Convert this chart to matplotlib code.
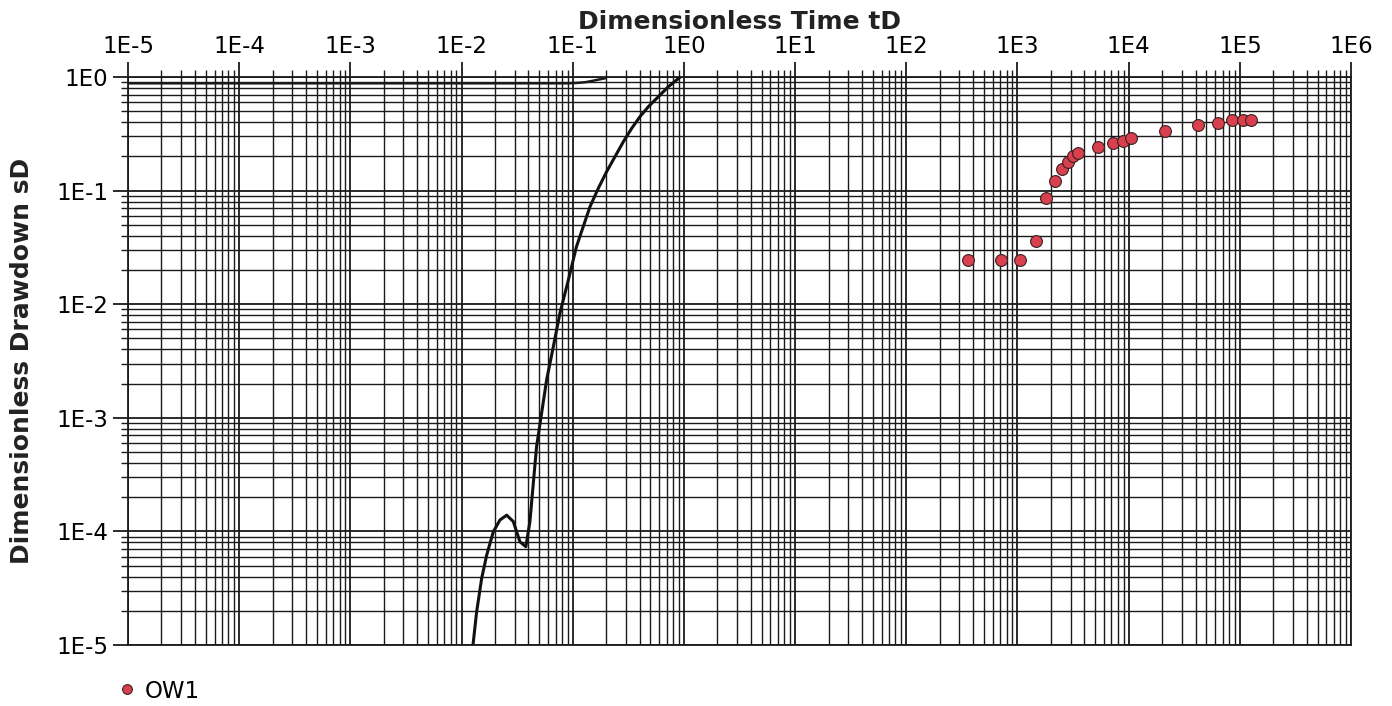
import matplotlib
matplotlib.use('Agg')
import matplotlib.pyplot as plt
from matplotlib.ticker import FixedLocator, LogLocator, NullFormatter
from matplotlib.lines import Line2D

# ---- data ----
ow1_td = [356, 706, 1047, 1459, 1794, 2162, 2500, 2831, 3140, 3483,
          5270, 7190, 8850, 10450, 21100, 41900, 63400, 84700, 106000, 125600]
ow1_sd = [0.0245, 0.0245, 0.0245, 0.036, 0.086, 0.1215, 0.155, 0.179, 0.202, 0.214,
          0.242, 0.262, 0.273, 0.290, 0.335, 0.378, 0.394, 0.418, 0.418, 0.418]

type_td = [0.0126, 0.01367, 0.01517, 0.01683, 0.01932, 0.02215, 0.02545, 0.02923,
           0.0335, 0.0379, 0.0412, 0.0438, 0.0473, 0.0525, 0.0582, 0.0669, 0.0767,
           0.0913, 0.108, 0.143, 0.170, 0.202, 0.240, 0.285, 0.339, 0.402, 0.479,
           0.589, 0.724, 0.920]
type_sd = [9.5e-6, 1.96e-5, 3.86e-5, 6.19e-5, 9.94e-5, 1.26e-4, 1.39e-4, 1.22e-4,
           8.11e-5, 7.33e-5, 1.22e-4, 2.4e-4, 5.57e-4, 1.10e-3, 2.15e-3, 4.23e-3, 8.32e-3,
           0.0163, 0.0321, 0.0722, 0.105, 0.147, 0.199, 0.269, 0.353, 0.447, 0.548,
           0.671, 0.821, 0.994]

upper_td = [1e-5, 0.09, 0.11, 0.13, 0.148, 0.17, 0.195]
upper_sd = [0.88, 0.88, 0.887, 0.90, 0.922, 0.948, 0.974]

xticks = [1e-5, 1e-4, 1e-3, 1e-2, 1e-1, 1e0, 1e1, 1e2, 1e3, 1e4, 1e5, 1e6]
xtick_labels = ['1E-5', '1E-4', '1E-3', '1E-2', '1E-1', '1E0',
                '1E1', '1E2', '1E3', '1E4', '1E5', '1E6']
yticks = [1e-5, 1e-4, 1e-3, 1e-2, 1e-1, 1e0]
ytick_labels = ['1E-5', '1E-4', '1E-3', '1E-2', '1E-1', '1E0']

series_label = 'OW1'
marker_color = '#d8404e'

# ---- figure ----
fig = plt.figure(figsize=(13.92, 7.06), dpi=100)
ax = fig.add_axes([128/1392, 1 - 645/706, (1351-128)/1392, (645-77)/706])
ax.set_xscale('log')
ax.set_yscale('log')
ax.set_xlim(1e-5, 1e6)
ax.set_ylim(1e-5, 1e0)

grid_col = '#1a1a1a'
ax.xaxis.set_major_locator(FixedLocator(xticks))
ax.yaxis.set_major_locator(FixedLocator(yticks))
ax.xaxis.set_minor_locator(LogLocator(base=10, subs=range(2, 10), numticks=100))
ax.yaxis.set_minor_locator(LogLocator(base=10, subs=range(2, 10), numticks=100))
ax.xaxis.set_minor_formatter(NullFormatter())
ax.yaxis.set_minor_formatter(NullFormatter())
ax.set_xticklabels(xtick_labels)
ax.set_yticklabels(ytick_labels)

ax.grid(True, which='major', color=grid_col, linewidth=1.3)
ax.grid(True, which='minor', color=grid_col, linewidth=1.0)
ax.set_axisbelow(True)

ax.xaxis.tick_top()
ax.xaxis.set_label_position('top')
ax.tick_params(axis='x', which='major', length=11, width=1.3, color=grid_col,
               labelsize=16.5, pad=3, top=True, bottom=False)
ax.tick_params(axis='x', which='minor', length=5, width=1.0, color=grid_col,
               top=True, bottom=False)
ax.tick_params(axis='y', which='major', length=11, width=1.3, color=grid_col,
               labelsize=16.5, pad=3, left=True, right=False)
ax.tick_params(axis='y', which='minor', length=5, width=1.0, color=grid_col,
               left=True, right=False)
for sp in ax.spines.values():
    sp.set_color(grid_col)
    sp.set_linewidth(1.3)

ax.plot(upper_td, upper_sd, color='#1a1a1a', linewidth=1.8, zorder=3)
ax.plot(type_td, type_sd, color='#111111', linewidth=2.2, zorder=3,
        solid_joinstyle='round')
ax.plot(ow1_td, ow1_sd, linestyle='none', marker='o', markersize=8.5,
        markerfacecolor=marker_color, markeredgecolor='#3a2020', markeredgewidth=0.8,
        zorder=4, clip_on=False)

ax.set_xlabel('Dimensionless Time tD', fontsize=18, fontweight='bold',
              color='#222222', labelpad=4)
ax.set_ylabel('Dimensionless Drawdown sD', fontsize=18, fontweight='bold',
              color='#222222', labelpad=16)

handle = Line2D([], [], linestyle='none', marker='o', markersize=7,
                markerfacecolor=marker_color, markeredgecolor='#3a2020',
                markeredgewidth=0.8)
fig.legend([handle], [series_label], loc='center left',
           bbox_to_anchor=(106/1392, 1 - 691/706), frameon=False,
           fontsize=16.5, handletextpad=0.3, handlelength=1.0, borderaxespad=0)

fig.savefig('out.png', dpi=100)
